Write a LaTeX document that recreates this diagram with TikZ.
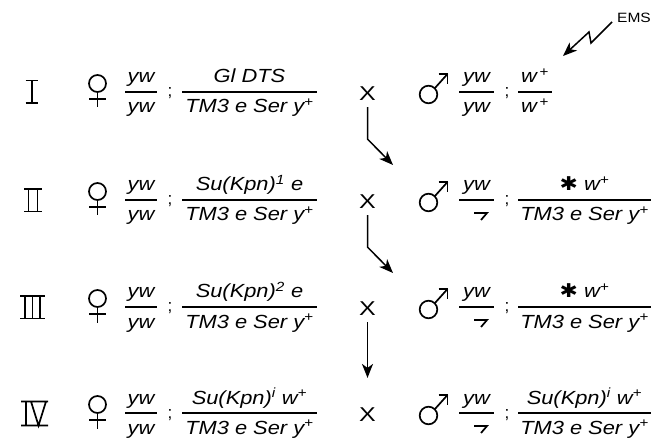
\documentclass[tikz,border=0pt]{standalone}
\usepackage{fontspec}
\usepackage{graphicx}
\setmainfont{Liberation Sans}
\newfontfamily\symfont{DejaVu Sans}
\usetikzlibrary{arrows.meta}

% slightly widened lettering for the genotypes
\newcommand\gstretch[1]{\scalebox{1.15}[1]{#1}}

% genotype fraction: name, centre x, bar y, half bar width, numerator, denominator
\newcommand\gfrac[6]{%
  \node[gene] (#1-n) at (#2,#3-9) {\gstretch{#5}};
  \node[gene] (#1-d) at (#2,#3+21) {\gstretch{#6}};
  \draw[bar] (#2-#4,#3) -- (#2+#4,#3);}

% female sign centred on x, bar y
\newcommand\femalesign[2]{%
  \draw[glyph] (#1,#2-8.5) circle[radius=8.5pt];
  \draw[glyph] (#1,#2) -- (#1,#2+15.5);
  \draw[glyph] (#1-8.5,#2+7) -- (#1+8.5,#2+7);}

% male sign, circle centre x, bar y
\newcommand\malesign[2]{%
  \draw[glyph] (#1,#2+2.5) circle[radius=8.8pt];
  \draw[glyph] (#1+6.2,#2+2.5-6.2) -- (#1+19,#2-18);
  \draw[glyph] (#1+10,#2-18) -- (#1+19,#2-18) -- (#1+19,#2-8);}

% hooked sign under yw
\newcommand\hooksign[2]{%
  \draw[glyph] (#1-3,#2+13) -- (#1+10,#2+13) -- (#1+4,#2+20);}

\newcommand\semi[2]{\node[semi] at (#1,#2+5) {;};}

\begin{document}
\begin{tikzpicture}[x=1pt,y=-1pt,
  gene/.style={font=\fontsize{19}{22}\selectfont\itshape, anchor=base, inner sep=0pt},
  semi/.style={font=\fontsize{17}{20}\selectfont, anchor=base, inner sep=0pt},
  cross/.style={font=\fontsize{20}{24}\selectfont, inner sep=0pt},
  label/.style={font=\fontsize{13.5}{16}\selectfont, inner sep=0pt},
  bar/.style={line width=1.5pt},
  glyph/.style={line width=1.7pt},
  numeral/.style={line width=1.7pt},
  flow/.style={line width=1.5pt, -{Stealth[length=14pt,width=11pt,inset=4pt]}}]
\useasboundingbox (0,0) rectangle (666,443);

% ---------- generation numerals ----------
% I
\draw[numeral] (25.5,80.5) -- (38,80.5) (31.75,80.5) -- (31.75,103) (25.5,103) -- (38,103);
% II
\draw[numeral] (24,189) -- (42,189) (24,211.5) -- (42,211.5)
  (28.5,189) -- (28.5,211.5) (37.5,189) -- (37.5,211.5);
% III
\draw[numeral] (20,296) -- (45,296) (20,318.5) -- (45,318.5)
  (25,296) -- (25,318.5) (32.5,296) -- (32.5,318.5) (40,296) -- (40,318.5);
% IV
\draw[numeral] (21,401.5) -- (48,401.5) (21,425.5) -- (48,425.5)
  (26,401.5) -- (26,425.5) (31,401.5) -- (38.5,425.5) -- (46,401.5);

% ---------- row I ----------
\femalesign{97.5}{92}
\gfrac{f1a}{141}{92}{16}{yw}{yw}
\semi{170}{92}
\gfrac{f1b}{249.5}{92}{67.5}{Gl DTS}{TM3 e Ser y\textsuperscript{+}}
\node[cross] (x1) at (367.5,94) {\scalebox{1.25}[1]{X}};
\malesign{428.5}{92}
\gfrac{m1a}{476.5}{92}{17.5}{yw}{yw}
\semi{507}{92}
\gfrac{m1b}{535}{92}{17}{w\textsuperscript{\,+}}{w\textsuperscript{\,+}}

% mutagen
\node[label] (ems) at (634,17.5) {\gstretch{EMS}};
\coordinate (z1) at (612,22);
\coordinate (z2) at (591,43);
\coordinate (z3) at (589,32);
\coordinate (hit) at (563,56);
\draw[flow] (z1) -- (z2) -- (z3) -- (hit);

% ---------- row II ----------
\femalesign{97.5}{200}
\gfrac{f2a}{141}{200}{16}{yw}{yw}
\semi{170}{200}
\gfrac{f2b}{249.5}{200}{67.5}{Su(Kpn)\textsuperscript{1} e}{TM3 e Ser y\textsuperscript{+}}
\node[cross] (x2) at (367.5,202) {\scalebox{1.25}[1]{X}};
\malesign{428.5}{200}
\node[gene] (m2a-n) at (476.5,191) {\gstretch{yw}};
\draw[bar] (459,200) -- (494,200);
\hooksign{477}{200}
\semi{507}{200}
\gfrac{m2b}{584.5}{200}{66.5}{{\symfont\upshape ✱} w\textsuperscript{+}}{TM3 e Ser y\textsuperscript{+}}

% ---------- row III ----------
\femalesign{97.5}{307}
\gfrac{f3a}{141}{307}{16}{yw}{yw}
\semi{170}{307}
\gfrac{f3b}{249.5}{307}{67.5}{Su(Kpn)\textsuperscript{2} e}{TM3 e Ser y\textsuperscript{+}}
\node[cross] (x3) at (367.5,309) {\scalebox{1.25}[1]{X}};
\malesign{428.5}{307}
\node[gene] (m3a-n) at (476.5,298) {\gstretch{yw}};
\draw[bar] (459,307) -- (494,307);
\hooksign{477}{307}
\semi{507}{307}
\gfrac{m3b}{584.5}{307}{66.5}{{\symfont\upshape ✱} w\textsuperscript{+}}{TM3 e Ser y\textsuperscript{+}}

% ---------- row IV ----------
\femalesign{97.5}{413}
\gfrac{f4a}{141}{413}{16}{yw}{yw}
\semi{170}{413}
\gfrac{f4b}{249.5}{413}{67.5}{Su(Kpn)\textsuperscript{i} w\textsuperscript{+}}{TM3 e Ser y\textsuperscript{+}}
\node[cross] (x4) at (367.5,415) {\scalebox{1.25}[1]{X}};
\malesign{428.5}{413}
\node[gene] (m4a-n) at (476.5,404) {\gstretch{yw}};
\draw[bar] (459,413) -- (494,413);
\hooksign{477}{413}
\semi{507}{413}
\gfrac{m4b}{584.5}{413}{66.5}{Su(Kpn)\textsuperscript{i} w\textsuperscript{+}}{TM3 e Ser y\textsuperscript{+}}

% ---------- crossing scheme ----------
\coordinate (k1) at (393,165);
\coordinate (k2) at (393,273);
\draw[flow] ([yshift=-6pt]x1.south) -- ++(0,32) -- (k1);
\draw[flow] ([yshift=-6pt]x2.south) -- ++(0,32) -- (k2);
\draw[flow, shorten <=6pt, shorten >=30pt] (x3) -- (x4);
\end{tikzpicture}
\end{document}
